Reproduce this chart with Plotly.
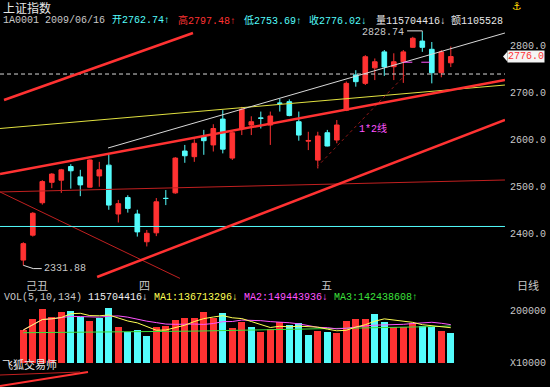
import plotly.graph_objects as go
import pandas as pd

W, H = 550, 387

# ---------------- data ----------------
opens = [2343, 2396, 2465, 2508.5, 2513, 2542, 2520, 2498, 2522, 2545,
         2441, 2476, 2441, 2382, 2401, 2474.5, 2486, 2575, 2563, 2606,
         2588, 2643, 2560, 2623, 2630.4, 2645.5, 2630.4, 2677, 2680, 2637.4,
         2596, 2555.7, 2614, 2598.5, 2662, 2737, 2719, 2752, 2786, 2754.5,
         2765, 2795.7, 2809, 2791.5, 2741.7, 2762.74]
highs = [2381, 2445, 2513, 2528, 2537, 2547, 2535, 2557, 2552, 2567,
         2471, 2481, 2450, 2407, 2475, 2492, 2562, 2588, 2600, 2620,
         2632, 2662, 2616, 2669, 2649, 2659, 2659, 2686, 2685, 2659,
         2616, 2616, 2620, 2641, 2723, 2747, 2779, 2772, 2790, 2783,
         2790, 2818, 2828.74, 2807, 2790, 2797.48]
lows = [2331.88, 2393, 2461, 2496, 2486, 2495, 2479, 2497, 2499, 2450,
        2423, 2444, 2393, 2372, 2394, 2460, 2484, 2550, 2552, 2567,
        2574, 2570, 2556, 2609, 2609, 2623, 2588, 2659, 2649, 2597,
        2577, 2538, 2585, 2591.5, 2660, 2712, 2715.5, 2726, 2735, 2726,
        2720, 2795, 2786, 2719, 2732, 2753.69]
closes = [2378, 2442.6, 2510, 2526, 2535, 2533, 2503, 2556, 2535, 2460,
          2463, 2453, 2403, 2400, 2467, 2474, 2560, 2565, 2591.5, 2597,
          2623, 2579, 2614, 2664, 2637.4, 2644.7, 2649.6, 2676.6, 2650.5, 2609,
          2597.5, 2607, 2585.7, 2630.4, 2719, 2722.6, 2775.7, 2765, 2754, 2765,
          2786, 2815, 2795.7, 2741.7, 2786, 2776.02]
volumes = [126500000, 167900000, 206600000, 178000000, 195000000, 200000000,
           175600000, 162500000, 174100000, 210400000, 139300000, 119900000,
           126500000, 103300000, 139300000, 143100000, 165200000, 174100000,
           174100000, 196100000, 174100000, 191100000, 133100000, 158600000,
           139300000, 119900000, 129200000, 158600000, 145800000, 152400000,
           107200000, 123800000, 119900000, 113700000, 162500000, 169100000,
           169100000, 188400000, 158600000, 139300000, 139300000, 154700000,
           143100000, 139300000, 123800000, 115704416]
vol_ma3 = [116.0, 116.2, 116.5, 116.7, 116.9, 117.1, 117.4, 117.6, 117.9, 118.2,
           118.5, 118.9, 119.3, 119.7, 120.1, 120.6, 121.1, 121.6, 122.2, 122.8,
           123.4, 124.0, 124.6, 125.3, 126.0, 126.7, 127.4, 128.1, 128.8, 129.5,
           130.2, 130.9, 131.6, 132.3, 133.0, 133.7, 134.4, 135.1, 135.8, 136.5,
           137.2, 138.0, 138.8, 139.6, 140.6, 142.4]
vol_ma3 = [v * 1e6 for v in vol_ma3]
ma_last_values = [136713296, 149443936, 142438608]
amount_text = "1105528"

price_ticks = [2400, 2500, 2600, 2700, 2800]
vol_ticks = [0, 200000000]
vol_tick_text = ["X10000", "200000"]
month_labels = ["己丑", "四", "五"]
month_index = [1.4, 12.8, 31.9]

# hand-drawn trend lines: (bar index, price) endpoints
line_upper_left = [(-2.03, 2683.6), (17.86, 2826.2)]
line_channel_mid = [(-2.45, 2526.2), (50.7, 2726.2)]
line_channel_low = [(7.77, 2307.0), (50.7, 2641.1)]
line_thin_diag = [(-2.45, 2487.9), (16.49, 2304.0)]
line_thin_flat = [(-2.45, 2487.9), (50.7, 2513.4)]
line_cyan_flat = [(-2.45, 2414.5), (50.7, 2414.5)]
line_yellow = [(-2.45, 2623.0), (50.7, 2715.5)]
line_white = [(8.92, 2581.5), (50.7, 2826.2)]
line_white_dash = [(-2.45, 2738.9), (50.7, 2738.9)]
line_gann = [(30.9, 2541.0), (40.2, 2737.0)]
line_magenta_dash = [(40.0, 2764.0), (42.8, 2764.0)]

RED = "#FF3232"
CYAN = "#54FCFC"
GRAY = "#C8C8C8"
YELLOW = "#FFFF54"
MAGENTA = "#FF54FF"
GREEN = "#3CE03C"
MONO = "Liberation Mono, Noto Sans CJK SC, monospace"
CJK = "Noto Sans CJK SC, sans-serif"

n = len(closes)
idx = list(range(n))

vol_colors = [RED]
for i in range(1, n):
    vol_colors.append(RED if closes[i] >= closes[i - 1] else CYAN)

vs = pd.Series(volumes, dtype=float)
ma1 = vs.rolling(5, min_periods=1).mean()
ma2 = vs.rolling(10, min_periods=1).mean()

fig = go.Figure()

fig.add_trace(go.Candlestick(
    x=idx, open=opens, high=highs, low=lows, close=closes,
    increasing=dict(line=dict(color=RED, width=1), fillcolor=RED),
    decreasing=dict(line=dict(color=CYAN, width=1), fillcolor=CYAN),
    whiskerwidth=0, hoverinfo="skip", showlegend=False,
    xaxis="x", yaxis="y"))


def seg(pts, color, width=1, dash="solid"):
    fig.add_trace(go.Scatter(
        x=[p[0] for p in pts], y=[p[1] for p in pts], mode="lines",
        line=dict(color=color, width=width, dash=dash),
        hoverinfo="skip", showlegend=False, xaxis="x", yaxis="y"))


seg(line_thin_diag, "#C02020", 1)
seg(line_thin_flat, "#C02020", 1)
seg(line_cyan_flat, CYAN, 1)
seg(line_yellow, "#E0E040", 1)
seg(line_white, "#D8D8D8", 1)
seg(line_white_dash, "#D8D8D8", 1, "4px,3px")
seg(line_gann, "#901818", 1, "dot")
seg(line_magenta_dash, MAGENTA, 1, "dash")
seg(line_upper_left, RED, 2.5)
seg(line_channel_mid, RED, 2.5)
seg(line_channel_low, RED, 2.5)

# high / low markers
hi_i = highs.index(max(highs))
lo_i = lows.index(min(lows))
seg([(hi_i, highs[hi_i]), (hi_i, highs[hi_i] + 2), (hi_i - 1.6, highs[hi_i] + 2)], "#E0E0E0", 1)
seg([(lo_i, lows[lo_i]), (lo_i + 1.05, lows[lo_i] - 7), (lo_i + 1.94, lows[lo_i] - 7)], "#E0E0E0", 1)

# volume
fig.add_trace(go.Bar(x=idx, y=volumes, marker=dict(color=vol_colors, line=dict(width=0)),
                     width=0.7, hoverinfo="skip", showlegend=False, xaxis="x2", yaxis="y2"))
fig.add_trace(go.Scatter(x=idx, y=vol_ma3, mode="lines", line=dict(color=GREEN, width=1),
                         hoverinfo="skip", showlegend=False, xaxis="x2", yaxis="y2"))
fig.add_trace(go.Scatter(x=idx, y=ma2, mode="lines", line=dict(color=MAGENTA, width=1),
                         hoverinfo="skip", showlegend=False, xaxis="x2", yaxis="y2"))
fig.add_trace(go.Scatter(x=idx, y=ma1, mode="lines", line=dict(color=YELLOW, width=1),
                         hoverinfo="skip", showlegend=False, xaxis="x2", yaxis="y2"))

x_range = [-2.453, 50.705]
x_dom = [0, 505 / W]
p_bot = 280
price_range = [2300.6, 2896.4]
vol_range = [-28240000, 281200000]

fig.update_layout(
    width=W, height=H, margin=dict(l=0, r=0, t=0, b=0),
    paper_bgcolor="black", plot_bgcolor="black",
    showlegend=False, bargap=0,
    xaxis=dict(domain=x_dom, range=x_range, visible=False, rangeslider=dict(visible=False),
               anchor="y"),
    yaxis=dict(domain=[(H - p_bot) / H, 1], range=price_range, side="right",
               anchor="x", tickvals=price_ticks, ticktext=[f"{t:.1f}" for t in price_ticks],
               showgrid=False, zeroline=False, showline=False, ticks="outside", ticklen=2,
               tickcolor="rgba(0,0,0,0)", tickfont=dict(color=GRAY, size=10, family=MONO)),
    xaxis2=dict(domain=x_dom, range=x_range, visible=False, anchor="y2", matches="x"),
    yaxis2=dict(domain=[(H - 370) / H, (H - 290) / H], range=vol_range, side="right",
                anchor="x2", tickvals=vol_ticks, ticktext=vol_tick_text,
                showgrid=False, zeroline=False, showline=False, ticks="outside", ticklen=2,
                tickcolor="rgba(0,0,0,0)", tickfont=dict(color=GRAY, size=10, family=MONO)),
)

ann = []


def txt(x, y, text, color, size=10, family=MONO, xanchor="left"):
    ann.append(dict(x=x / W, y=1 - y / H, xref="paper", yref="paper", text=text,
                    showarrow=False, xanchor=xanchor, yanchor="middle",
                    font=dict(color=color, size=size, family=family)))


last = n - 1
txt(1, 8, "上证指数", "#E8E8E8", 12, CJK)
txt(1, 21, "1A0001 2009/06/16", GRAY)
txt(110, 21, f"开{opens[last]:.2f}↑", CYAN)
txt(176, 21, f"高{highs[last]:.2f}↑", RED)
txt(242, 21, f"低{lows[last]:.2f}↑", CYAN)
txt(307, 21, f"收{closes[last]:.2f}↓", CYAN)
txt(374, 21, f"量{volumes[last]}↓", "#E8E8E8")
txt(449, 21, f"额{amount_text}", "#E8E8E8")
txt(510, 7, "⚓", "#FFD700", 11, "DejaVu Sans")

txt(2, 297, "VOL(5,10,134)", GRAY)
txt(86, 297, f"{volumes[last]}↓", "#F0F0F0")
txt(152, 297, f"MA1:{ma_last_values[0]}↓", YELLOW)
txt(242, 297, f"MA2:{ma_last_values[1]}↓", MAGENTA)
txt(332, 297, f"MA3:{ma_last_values[2]}↑", GREEN)

txt(515, 285, "日线", GRAY, 11, CJK)
txt(0, 364, "飞狐交易师", "#E8E8E8", 11, CJK)

for lab, mi in zip(month_labels, month_index):
    ann.append(dict(x=mi, y=1 - 285 / H, xref="x", yref="paper", text=lab, showarrow=False,
                    xanchor="center", yanchor="middle",
                    font=dict(color=GRAY, size=11, family=CJK)))

# high / low value labels
ann.append(dict(x=hi_i - 1.7, y=highs[hi_i] - 1, xref="x", yref="y", text=f"{highs[hi_i]:.2f}",
                showarrow=False, xanchor="right", yanchor="middle",
                font=dict(color=GRAY, size=10, family=MONO)))
ann.append(dict(x=lo_i + 2.0, y=lows[lo_i] - 7, xref="x", yref="y", text=f"{lows[lo_i]:.2f}",
                showarrow=False, xanchor="left", yanchor="middle",
                font=dict(color=GRAY, size=10, family=MONO)))
ann.append(dict(x=35.1, y=2624, xref="x", yref="y", text="1*2线", showarrow=False,
                xanchor="left", yanchor="middle", font=dict(color=MAGENTA, size=10, family=MONO)))

# last price box
ann.append(dict(x=507 / W, y=closes[last], xref="paper", yref="y", text=f"{closes[last]:.1f}",
                showarrow=False, xanchor="left", yanchor="middle", bgcolor="#F4F4F4",
                borderpad=0, font=dict(color=RED, size=10, family=MONO)))

fig.update_layout(annotations=ann)
fig.add_shape(type="path", xref="paper", yref="y",
              path=f"M {503/W} {closes[last]} L {507.5/W} {closes[last]+11} L {507.5/W} {closes[last]-11} Z",
              fillcolor="#F4F4F4", line=dict(width=0))
# bottom-left red strokes
fig.add_shape(type="line", xref="paper", yref="paper", x0=0, y0=1 - 386 / H, x1=88 / W, y1=1 - 372 / H,
              line=dict(color=RED, width=2))
fig.add_shape(type="line", xref="paper", yref="paper", x0=0, y0=1 - 375 / H, x1=80 / W, y1=1 - 372 / H,
              line=dict(color="#C02020", width=1))

fig.write_html("out.html", config={"displayModeBar": False},
               post_script="document.body.style.margin='0';document.body.style.overflow='hidden';")
